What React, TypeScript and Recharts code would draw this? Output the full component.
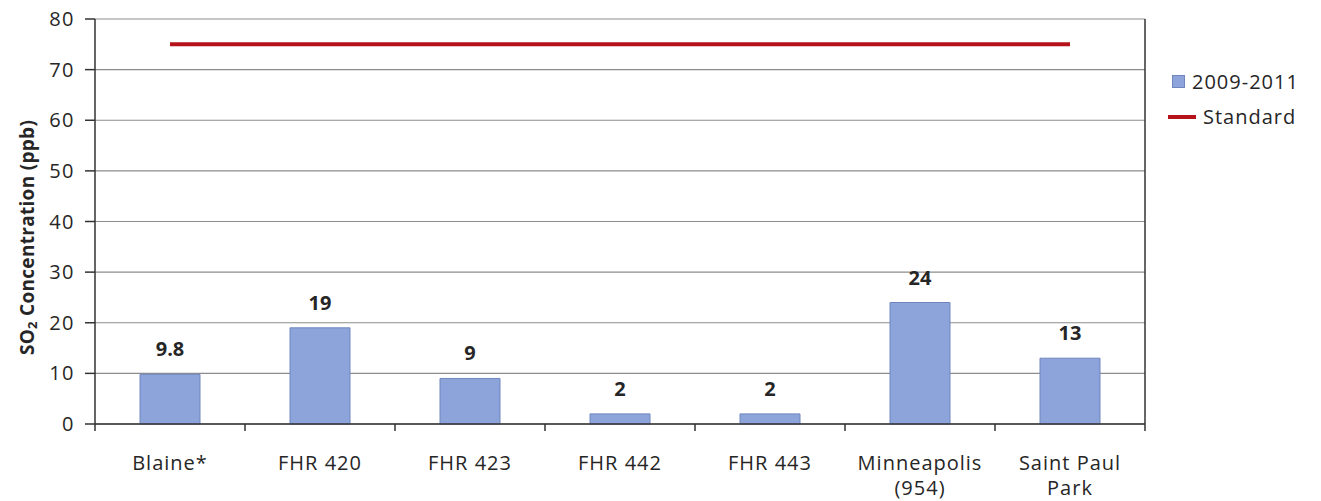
import * as React from "react";
import {
  BarChart,
  Bar,
  Line,
  XAxis,
  YAxis,
  CartesianGrid,
  Legend,
  LabelList,
} from "recharts";

const sites = [
  "Blaine*",
  "FHR 420",
  "FHR 423",
  "FHR 442",
  "FHR 443",
  "Minneapolis\n(954)",
  "Saint Paul\nPark",
];
const concentration = [9.8, 19, 9, 2, 2, 24, 13];
const standard = [75, 75, 75, 75, 75, 75, 75];
const yTicks = [0, 10, 20, 30, 40, 50, 60, 70, 80];

const seriesName = "2009-2011";
const standardName = "Standard";

const data = sites.map((site, i) => ({
  site,
  value: concentration[i],
  standard: standard[i],
}));

const font = "'Open Sans', sans-serif";
const barFill = "#8DA4DA";
const barStroke = "#6F86BF";
const lineColor = "#B5121B";
const textColor = "#262626";

function SiteTick(props: any) {
  const { x, y, payload, index } = props;
  const half = payload && payload.offset ? payload.offset : 75;
  const lines = String(payload.value).split("\n");
  const isLast = index === sites.length - 1;
  return (
    <g>
      <line x1={x - half} x2={x - half} y1={y} y2={y + 7} stroke="#333" strokeWidth={1.5} />
      {isLast && (
        <line x1={x + half} x2={x + half} y1={y} y2={y + 7} stroke="#333" strokeWidth={1.5} />
      )}
      <text
        x={x}
        y={y + 46}
        textAnchor="middle"
        fontFamily={font}
        fontSize={20}
        letterSpacing={1}
        fill={textColor}
      >
        {lines.map((l, i) => (
          <tspan key={i} x={x} dy={i === 0 ? 0 : 25}>
            {l}
          </tspan>
        ))}
      </text>
    </g>
  );
}

function YTitle(props: any) {
  const vb = props.viewBox || { x: 0, y: 0, width: 0, height: 0 };
  const cx = vb.x + 7;
  const cy = vb.y + vb.height / 2 + 16;
  return (
    <text
      x={cx}
      y={cy}
      transform={`rotate(-90, ${cx}, ${cy})`}
      textAnchor="middle"
      dominantBaseline="central"
      fontFamily={font}
      fontWeight="bold"
      fontSize={19}
      letterSpacing={0.3}
      fill={textColor}
    >
      <tspan>SO</tspan>
      <tspan dy={5} fontSize={13}>2</tspan>
      <tspan dy={-5}> Concentration (ppb)</tspan>
    </text>
  );
}

function LegendBox() {
  return (
    <div
      style={{
        fontFamily: font,
        fontSize: 20,
        letterSpacing: 1,
        color: textColor,
        lineHeight: "35px",
      }}
    >
      <div style={{ display: "flex", alignItems: "center" }}>
        <span
          style={{
            display: "inline-block",
            width: 11,
            height: 11,
            background: barFill,
            border: `1px solid ${barStroke}`,
            marginLeft: 4,
            marginRight: 7,
          }}
        />
        {seriesName}
      </div>
      <div style={{ display: "flex", alignItems: "center" }}>
        <span
          style={{
            display: "inline-block",
            width: 28,
            height: 4,
            background: lineColor,
            marginRight: 7,
          }}
        />
        {standardName}
      </div>
    </div>
  );
}

export default function App() {
  return (
    <div style={{ position: "absolute", left: 0, top: 0, width: 1321, height: 501, background: "#fff" }}>
      <BarChart
        width={1321}
        height={501}
        data={data}
        margin={{ top: 19, right: 25, bottom: 17, left: 20 }}
        barCategoryGap="30%"
      >
        <CartesianGrid horizontal vertical={false} stroke="#8C8C8C" strokeWidth={1.2} />
        <XAxis
          dataKey="site"
          height={60}
          interval={0}
          tickSize={0}
          tickMargin={0}
          tickLine={false}
          axisLine={{ stroke: "#333", strokeWidth: 1.5 }}
          tick={<SiteTick />}
        />
        <YAxis
          width={75}
          domain={[0, 80]}
          ticks={yTicks}
          interval={0}
          tickSize={10}
          tickMargin={10}
          axisLine={{ stroke: "#333", strokeWidth: 1.5 }}
          tickLine={{ stroke: "#333", strokeWidth: 1.5 }}
          tick={{ fontFamily: font, fontSize: 20, letterSpacing: 1.5, fill: textColor }}
          label={<YTitle />}
        />
        <YAxis
          yAxisId="border"
          orientation="right"
          width={1}
          domain={[0, 80]}
          tick={false}
          tickLine={false}
          axisLine={{ stroke: "#333", strokeWidth: 1.5 }}
        />
        <Legend
          layout="vertical"
          align="right"
          verticalAlign="top"
          content={<LegendBox />}
          wrapperStyle={{ left: 1168, top: 64, width: 150 }}
        />
        <Bar
          dataKey="value"
          name={seriesName}
          fill={barFill}
          stroke={barStroke}
          strokeWidth={1}
          isAnimationActive={false}
        >
          <LabelList
            dataKey="value"
            position="top"
            offset={18}
            fontFamily={font}
            fontWeight="bold"
            fontSize={20}
            fill={textColor}
          />
        </Bar>
        <Line
          type="linear"
          dataKey="standard"
          name={standardName}
          stroke={lineColor}
          strokeWidth={4}
          dot={false}
          activeDot={false}
          isAnimationActive={false}
        />
      </BarChart>
    </div>
  );
}
